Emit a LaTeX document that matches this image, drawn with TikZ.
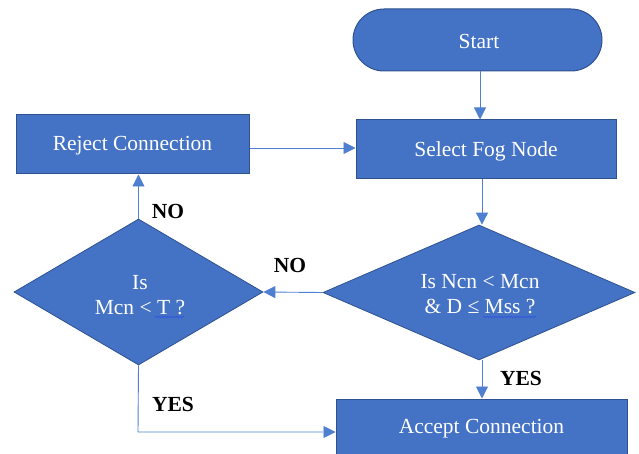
\documentclass[tikz,border=0pt]{standalone}
\usepackage{fontspec}
\setmainfont{Liberation Serif}
\usetikzlibrary{shapes.geometric,shapes.misc,arrows.meta,decorations.pathmorphing}
\definecolor{boxfill}{HTML}{4472C4}
\definecolor{boxline}{HTML}{2F528F}
\definecolor{arrline}{HTML}{4F7FD0}
\definecolor{squig}{HTML}{3050E0}
\newcommand{\boxfont}{\fontsize{21.5}{25}\selectfont}
\tikzset{
  procbox/.style={rectangle,draw=boxline,line width=1pt,fill=boxfill,text=white,
    font=\boxfont,inner sep=0pt},
  termbox/.style={rounded rectangle,draw=boxline,line width=1pt,fill=boxfill,text=white,
    font=\boxfont,inner sep=0pt},
  decbox/.style={diamond,draw=boxline,line width=0.8pt,fill=boxfill,text=white,
    font=\boxfont,inner sep=0pt,align=center},
  wtxt/.style={text=white,font=\boxfont,align=center,inner sep=0pt},
  arr/.style={draw=arrline,line width=0.9pt,-{Triangle[length=12pt,width=12pt]}},
  lbl/.style={font=\fontsize{21.5}{24}\selectfont\bfseries,text=black},
  wavy/.style={draw=squig,line width=0.5pt,decorate,decoration={snake,amplitude=0.8pt,segment length=3pt}}
}
\begin{document}
\begin{tikzpicture}[x=1pt,y=-1pt]
\useasboundingbox (0,0) rectangle (639,454);
\node[termbox,minimum width=249pt,minimum height=62pt] (start) at (477.5,40) {};
\node[wtxt] (starttxt) at (479,41) {Start};
\node[procbox,minimum width=260pt,minimum height=59pt] (sel) at (486,149.5) {};
\node[wtxt] (seltxt) at (486,151) {Select Fog Node};
\node[procbox,minimum width=233pt,minimum height=59pt] (rej) at (132.5,144.5) {};
\node[wtxt] (rejtxt) at (132.5,146) {Reject Connection};
\node[decbox,minimum width=312pt,minimum height=135pt] (d1) at (479,292.5) {};
\node[wtxt] (d1txt) at (480,294) {Is Ncn < Mcn\\\& D ≤ Mss ?};
\node[decbox,minimum width=249pt,minimum height=146pt] (d2) at (138.5,292) {};
\node[wtxt] (d2txt) at (140,295) {Is\\Mcn < T ?};
\node[procbox,minimum width=291pt,minimum height=60pt] (acc) at (481.5,429) {};
\node[wtxt] (acctxt) at (481.5,429) {Accept Connection};
\coordinate (cx) at (480,0);
\coordinate (cy) at (482,0);
\coordinate (bend) at (138,432);
\draw[arr] (start.south -| cx) -- (sel.north -| cx);
\draw[arr] (sel.south -| cy) -- (d1.north -| cy);
\draw[arr] (d1.south -| cy) -- (acc.north -| cy);
\draw[arr] (rej.east |- 0,148) -- (sel.west |- 0,148);
\draw[arr] (d1.west) -- (d2.east);
\draw[arr] (d2.north) -- (rej.south -| d2.north);
\draw[arr] (d2.south) -- (bend) -- (acc.west |- bend);
\node[lbl] (no1) at (290,265) {NO};
\node[lbl] (no2) at (168,211) {NO};
\node[lbl] (yes1) at (173,404) {YES};
\node[lbl] (yes2) at (521,378) {YES};
\draw[wavy] (155,317) -- (184,317);
\draw[wavy] (483,317) -- (536,317);
\end{tikzpicture}
\end{document}
